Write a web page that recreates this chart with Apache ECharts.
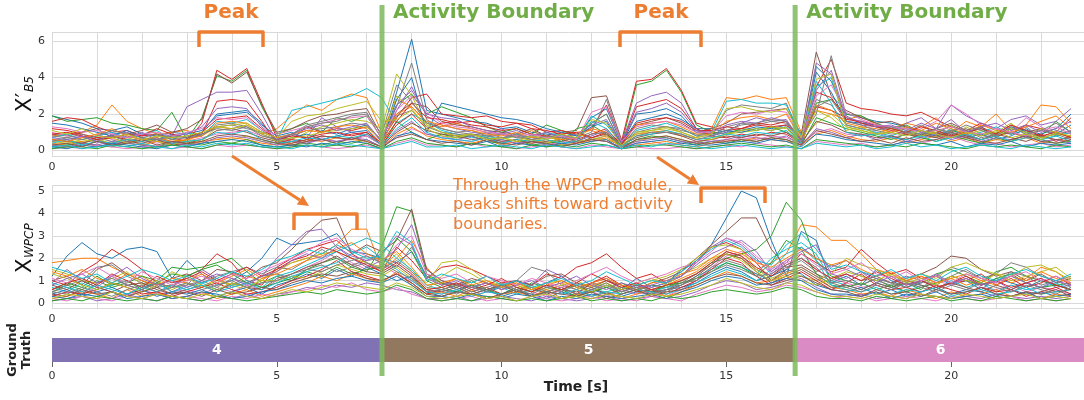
<!DOCTYPE html>
<html><head><meta charset="utf-8">
<script src="https://cdn.jsdelivr.net/npm/echarts@6/dist/echarts.min.js"></script>
<style>html,body{margin:0;padding:0;background:#fff}#c{width:1084px;height:400px}</style>
</head><body><div id="c"></div>
<script>
// ---------- DATA ----------
const sampleStep = 1 / 3; // seconds between samples
const xTickLabels = [0, 5, 10, 15, 20];

// Panel 1: X'_B5
const b5_01 = [1.9,1.7,1.5,1.2,1.1,1.3,0.9,0.8,1.0, 0.9,1.1, 1.9,2.0,2.1,1.4, 0.8,1.0,0.6,1.1,0.9,1.2,1.4, 0.5, 3.2,6.1,2.2, 2.0,1.8,1.6,1.5,1.2,1.3,1.0,0.9,0.8,0.7, 1.8,2.3, 0.4, 1.6,1.8,2.0,1.7,1.2, 1.2,1.0,1.1,1.3,1.2,1.4, 0.6, 4.6,3.8, 2.0,1.8,1.6,1.5,1.3,1.1,0.9,1.4,1.0,1.2,0.8,1.3,1.1,0.9,1.2,2.0];
const b5_02 = [0.8,0.9,1.0,1.4,2.5,1.6,1.2,0.9,1.0, 1.1,0.8, 1.3,1.2,1.4,0.9, 1.2,1.9,2.5,2.2,2.8,3.1,2.9, 1.0, 2.8,2.4,1.5, 1.3,1.5,1.2,1.0,0.9,0.8,1.1,0.7,0.9,1.0, 1.1,0.8, 0.5, 0.9,1.0,1.1,0.8,0.7, 1.2,2.9,2.8,3.0,2.8,2.9, 1.0, 2.2,2.0, 1.7,1.9,1.4,1.2,1.5,1.3,1.8,1.0,1.6,1.3,2.0,1.1,1.4,2.5,2.4,1.5];
const b5_03 = [1.9,1.6,1.7,1.8,1.5,1.4,1.2,1.1,2.1, 0.6,1.8, 4.1,3.8,4.4,2.4, 0.9,1.2,1.5,1.0,1.8,1.6,1.9, 0.7, 2.5,3.1,2.0, 2.4,2.1,1.8,1.3,1.0,1.2,0.9,1.4,1.1,0.8, 1.5,2.0, 0.3, 3.6,3.8,4.4,3.2,1.4, 1.0,0.9,1.2,1.1,1.3,1.0, 0.5, 2.6,2.8, 2.0,1.9,1.5,1.2,1.4,1.0,0.8,1.1,0.9,1.3,0.7,1.2,1.0,0.8,1.6,1.0];
const b5_04 = [1.6,1.8,1.7,1.3,1.0,1.1,0.8,0.9,0.7, 0.5,1.5, 4.4,3.9,4.5,2.6, 0.7,0.6,1.3,1.0,1.2,1.1,1.3, 0.6, 1.8,2.9,3.1, 2.0,1.9,1.8,1.9,1.6,1.5,1.4,1.0,1.1,0.9, 1.2,2.5, 0.5, 3.8,3.9,4.5,3.3,1.5, 1.3,1.1,1.2,1.4,1.3,1.4, 0.8, 3.5,5.0, 2.6,2.3,2.2,2.0,1.9,2.1,1.7,1.3,1.1,1.5,1.2,0.9,1.4,1.2,1.0,1.8];
const b5_05 = [0.6,0.5,0.8,0.4,0.9,1.0,0.7,0.5,0.8, 2.4,2.8, 3.2,3.2,3.3,2.0, 0.5,0.9,0.7,1.8,1.3,1.0,0.8, 0.3, 2.2,3.5,1.9, 1.4,1.2,1.0,0.9,1.2,0.7,0.8,0.6,0.9,0.5, 0.8,1.1, 0.4, 2.6,3.0,3.2,2.6,1.2, 0.8,1.0,1.5,1.8,1.6,1.7, 0.5, 4.8,4.2, 1.6,1.4,1.3,1.0,1.5,1.8,1.2,2.5,1.9,1.5,1.2,1.7,1.9,1.4,1.6,2.3];
const b5_06 = [0.9,0.8,1.0,1.2,0.7,0.9,1.1,1.4,1.0, 1.2,1.7, 4.2,3.7,4.3,2.5, 1.0,1.2,1.6,1.9,2.0,2.2,2.3, 0.8, 2.0,2.6,2.4, 1.6,1.4,1.3,1.1,1.0,0.9,1.2,0.8,1.0,1.1, 2.9,3.0, 0.6, 1.4,1.6,1.8,1.5,1.0, 1.2,1.5,2.0,2.1,2.2,2.3, 0.9, 5.4,3.0, 2.2,1.8,1.5,1.6,1.3,1.0,1.2,1.5,1.1,1.3,0.9,1.4,1.0,1.2,0.8,1.1];
const b5_07 = [1.0,0.8,0.7,0.9,0.6,0.5,0.7,0.4,0.6, 0.5,0.7, 0.9,1.0,1.1,0.8, 0.6,0.5,0.4,0.7,0.5,0.6,0.8, 0.3, 0.7,1.2,0.9, 0.8,0.6,0.5,0.7,0.5,0.4,0.6,0.3,0.5,0.4, 0.6,0.8, 0.2, 0.4,0.5,0.3,0.4,0.5, 0.6,0.5,0.7,0.6,0.8,0.7, 0.4, 1.0,1.2, 0.9,0.8,1.0,0.7,0.9,1.2,1.6,2.5,2.0,1.4,1.2,1.0,1.8,1.3,0.9,1.1];
const b5_08 = [0.5,0.6,0.4,0.7,0.5,0.8,0.6,0.5,0.7, 0.8,0.9, 1.3,1.4,1.2,1.0, 0.7,0.9,1.4,1.6,1.8,2.0,2.1, 0.6, 2.4,4.8,1.7, 1.2,1.0,1.1,0.8,0.9,0.7,0.6,0.8,0.5,0.7, 1.0,2.8, 0.4, 1.0,1.2,1.3,1.1,0.9, 0.9,2.2,2.5,2.4,2.3,2.6, 0.7, 2.0,5.2, 1.9,1.5,1.3,1.2,1.0,1.4,0.9,1.1,1.2,0.8,1.0,0.9,1.3,0.7,1.1,0.9];
const b5_09 = [0.3,0.4,0.5,0.6,0.4,0.7,0.5,0.8,0.6, 0.5,0.4, 0.7,0.6,0.8,0.5, 0.4,0.6,1.0,1.3,1.5,1.7,1.6, 1.2, 4.2,3.0,1.4, 1.0,0.8,0.9,0.7,0.6,0.8,0.5,0.7,0.6,0.9, 0.7,0.6, 0.3, 0.5,0.7,0.8,0.6,0.4, 0.7,0.9,1.0,1.1,1.3,1.2, 0.5, 1.5,2.0, 1.3,1.1,0.9,1.2,1.0,0.8,1.1,0.7,1.3,0.9,1.0,1.5,0.8,1.2,1.0,0.7];
const b5_10 = [0.7,0.9,0.6,0.8,1.0,0.7,0.9,1.1,0.6, 1.0,0.8, 1.6,1.5,1.7,1.1, 0.6,2.2,2.4,2.6,2.8,3.0,3.4, 2.9, 1.5,2.0,1.6, 1.1,0.9,0.7,0.8,0.6,0.9,0.7,1.0,0.8,0.6, 1.9,1.4, 0.4, 1.1,1.3,1.5,1.2,0.8, 1.0,2.7,2.8,2.6,2.6,2.5, 0.8, 3.5,4.0, 1.4,1.2,1.0,0.8,1.1,0.9,0.7,1.2,0.8,1.0,1.3,0.9,1.1,0.6,0.8,1.0];
const b5_11 = [1.5,1.4,1.2,1.0,0.8,1.1,0.7,0.6,0.9, 0.7,1.0, 2.0,2.1,2.2,1.5, 0.5,0.7,0.9,0.6,0.8,1.0,1.1, 0.4, 2.8,4.0,1.0, 2.6,2.4,2.2,2.0,1.8,1.7,1.5,1.2,1.0,0.8, 1.3,1.6, 0.3, 2.0,2.1,2.3,1.9,1.0, 0.9,1.1,1.0,1.2,1.1,1.3, 0.4, 4.3,3.2, 1.6,1.5,1.4,1.3,1.2,1.0,0.8,1.0,0.7,0.9,0.6,0.8,1.2,0.7,0.9,1.4];
const b5_12 = [0.4,0.3,0.5,0.2,0.4,0.6,0.3,0.5,0.4, 0.3,0.5, 0.6,0.7,0.6,0.4, 0.3,0.4,0.6,0.5,0.7,0.6,0.5, 0.2, 0.9,1.3,0.8, 0.6,0.5,0.4,0.6,0.3,0.5,0.4,0.6,0.3,0.4, 0.5,0.7, 0.2, 0.3,0.4,0.5,0.3,0.2, 0.4,0.6,0.5,0.7,0.6,0.5, 0.3, 0.9,1.1, 0.8,0.6,0.5,0.7,0.4,0.6,0.8,0.5,0.7,0.4,0.6,0.5,0.7,0.4,0.6,0.5];
const b5_13 = [0.2,0.3,0.4,0.3,0.2,0.4,0.3,0.2,0.5, 0.4,0.3, 0.5,0.4,0.6,0.3, 0.2,0.3,0.4,0.3,0.5,0.4,0.6, 0.2, 1.6,1.0,0.6, 0.9,0.7,0.8,0.5,0.4,0.6,0.3,0.4,0.5,1.2, 1.4,0.9, 0.2, 0.6,0.8,0.7,0.5,0.3, 0.5,0.4,0.6,0.5,0.7,0.6, 0.3, 1.8,1.5, 1.2,1.0,0.8,0.6,0.9,0.7,0.5,0.8,0.6,0.4,0.7,0.5,0.9,0.6,0.4,0.5];
const b5_14 = [1.2,1.1,0.9,0.7,0.8,0.6,0.5,0.7,0.4, 0.6,0.9, 2.7,2.8,2.7,1.6, 0.4,0.6,0.5,0.8,0.7,0.9,1.0, 0.3, 1.4,2.0,1.2, 1.5,1.6,1.4,1.3,1.1,1.2,0.9,0.8,0.7,0.6, 0.9,1.2, 0.3, 2.4,2.6,2.8,2.3,1.2, 0.8,0.7,0.9,0.8,1.0,0.9, 0.4, 2.4,2.2, 1.8,1.5,1.3,1.1,0.9,0.8,1.0,0.7,0.9,0.6,0.8,1.0,0.7,0.9,0.5,0.8];
const b5_15 = [0.3,0.2,0.4,0.3,0.5,0.4,0.3,0.2,0.4, 0.3,0.4, 0.7,0.8,0.7,0.5, 0.3,0.5,0.4,0.6,0.5,0.7,0.6, 0.2, 1.1,1.6,0.9, 0.7,0.6,0.8,0.5,0.6,0.4,0.5,0.3,0.4,0.5, 0.6,0.5, 0.2, 0.5,0.6,0.7,0.5,0.4, 0.5,0.6,0.8,0.7,0.6,0.8, 0.3, 1.2,1.0, 0.7,0.9,0.6,0.8,0.5,0.7,0.9,0.6,0.8,0.5,0.7,0.6,0.8,0.5,0.6,0.4];
const b5_16 = [0.6,0.5,0.4,0.6,0.3,0.5,0.4,0.6,0.3, 0.4,0.6, 1.1,1.2,1.0,0.7, 0.5,0.4,0.6,0.8,0.7,0.6,0.9, 0.3, 1.0,1.5,1.1, 0.9,0.8,0.6,0.7,0.5,0.6,0.4,0.5,0.6,0.4, 0.7,0.9, 0.3, 0.7,0.9,1.0,0.8,0.5, 0.6,0.8,0.7,0.9,0.8,1.0, 0.4, 1.6,1.4, 1.0,0.9,0.7,0.8,0.6,0.9,0.7,1.0,0.8,0.6,0.9,0.7,0.5,0.8,0.6,0.7];
const b5_17 = [0.1,0.2,0.1,0.3,0.2,0.1,0.2,0.3,0.1, 0.2,0.1, 0.3,0.2,0.3,0.2, 0.1,0.2,0.3,0.2,0.1,0.2,0.3, 0.1, 0.4,0.6,0.3, 0.3,0.2,0.4,0.2,0.3,0.1,0.2,0.3,0.2,0.1, 0.3,0.2, 0.1, 0.2,0.1,0.1,0.2,0.1, 0.2,0.3,0.2,0.4,0.3,0.2, 0.1, 0.5,0.4, 0.3,0.4,0.2,0.3,0.5,0.4,0.6,0.8,0.5,0.3,0.4,0.2,0.3,0.4,0.2,0.3];
const b5_18 = [0.8,0.7,0.9,0.6,0.8,0.5,0.7,0.9,0.6, 0.7,0.8, 1.4,1.5,1.3,0.9, 0.6,0.8,1.1,1.2,1.3,1.5,1.4, 0.5, 1.9,2.2,1.3, 1.0,0.9,0.8,1.0,0.7,0.8,0.6,0.7,0.9,0.6, 1.5,2.0, 0.3, 1.2,1.4,1.3,1.2,0.8, 0.8,1.3,1.5,1.4,1.6,1.5, 0.6, 2.8,2.5, 1.4,1.2,1.1,0.9,1.0,0.8,1.2,0.9,1.1,0.7,0.9,1.0,0.8,1.1,0.9,0.6];
const b5_19 = [0.5,0.4,0.6,0.5,0.7,0.4,0.6,0.5,0.3, 0.6,0.5, 1.3,1.2,1.4,0.9, 0.5,0.7,0.8,1.0,1.1,1.2,1.3, 0.6, 3.0,2.3,1.2, 0.8,0.7,0.9,0.6,0.7,0.5,0.6,0.4,0.7,0.5, 0.6,0.8, 0.2, 1.0,1.1,1.2,1.0,0.7, 0.6,0.9,1.1,1.2,1.1,1.3, 0.5, 2.2,1.8, 1.1,1.3,0.9,1.0,1.2,0.8,1.0,1.4,0.9,1.1,0.8,1.2,1.0,0.7,0.9,0.8];
const b5_20 = [0.4,0.6,0.3,0.5,0.4,0.6,0.5,0.7,0.4, 0.5,0.6, 1.0,0.9,1.1,0.6, 0.4,0.5,0.7,0.6,0.8,0.7,0.9, 0.3, 1.2,1.8,1.0, 0.7,0.6,0.5,0.7,0.4,0.6,0.5,0.6,0.4,0.5, 1.6,1.2, 0.2, 0.8,0.9,1.1,0.9,0.6, 0.7,0.9,0.8,1.0,0.9,1.1, 0.4, 3.8,2.6, 1.0,0.8,0.9,0.7,0.6,0.8,0.5,0.7,0.9,0.6,0.8,0.5,0.7,0.6,0.8,0.5];
const b5_21 = [0.2,0.1,0.3,0.2,0.4,0.3,0.2,0.1,0.3, 0.2,0.4, 0.5,0.6,0.5,0.3, 0.2,0.3,0.2,0.4,0.3,0.5,0.4, 0.1, 0.8,1.0,0.6, 0.5,0.4,0.3,0.5,0.2,0.4,0.3,0.2,0.4,0.3, 0.5,0.6, 0.1, 0.4,0.5,0.6,0.4,0.3, 0.3,0.4,0.5,0.4,0.6,0.5, 0.2, 0.9,0.8, 0.6,0.5,0.4,0.3,0.5,0.4,0.3,0.5,0.2,0.4,0.3,0.5,0.2,0.4,0.3,0.4];
const b5_22 = [0.6,0.5,0.7,0.9,1.2,0.8,0.6,0.7,0.5, 0.6,0.8, 1.5,1.6,1.5,1.0, 0.7,0.9,1.1,1.0,1.3,1.4,1.2, 0.4, 2.0,2.4,1.6, 1.4,1.2,1.1,0.9,0.8,1.0,0.7,0.8,0.6,0.7, 1.2,1.0, 0.3, 1.4,1.5,1.6,1.3,0.9, 0.9,1.6,1.8,1.9,1.7,2.0, 0.6, 2.5,2.2, 1.5,1.3,1.2,1.0,1.3,1.1,1.5,1.2,0.9,1.4,1.1,1.0,1.3,1.6,1.9,1.2];
const b5_23 = [0.1,0.2,0.2,0.1,0.3,0.2,0.1,0.2,0.3, 0.2,0.1, 0.3,0.4,0.3,0.2, 0.1,0.2,0.3,0.2,0.3,0.2,0.4, 0.1, 0.5,0.7,0.4, 0.3,0.2,0.4,0.3,0.2,0.1,0.3,0.2,0.3,0.2, 0.4,0.3, 0.1, 0.2,0.3,0.3,0.2,0.1, 0.2,0.3,0.4,0.3,0.2,0.3, 0.1, 0.6,0.5, 0.4,0.3,0.2,0.3,0.2,0.4,0.3,0.2,0.1,0.3,0.2,0.3,0.2,0.1,0.3,0.2];
const b5_24 = [0.9,1.0,0.8,0.6,0.7,0.9,0.8,1.2,0.9, 0.7,1.0, 1.7,1.8,1.9,1.2, 0.6,0.8,0.7,0.9,1.0,0.8,1.0, 0.4, 1.6,2.6,1.8, 1.7,1.5,1.6,1.4,1.3,1.5,1.2,1.1,0.9,1.0, 0.7,1.0, 0.3, 1.5,1.7,1.8,1.6,1.1, 1.1,1.3,1.2,1.5,1.4,1.6, 0.6, 3.2,2.9, 1.7,1.6,1.4,1.2,1.0,1.3,1.1,0.8,1.0,1.2,0.9,1.4,1.1,0.8,1.0,0.7];
const b5_25 = [0.7,0.6,0.8,0.5,0.9,0.7,1.0,0.6,0.8, 0.9,1.3, 2.3,2.4,2.3,1.3, 0.6,0.9,1.2,1.4,1.1,1.3,1.5, 0.5, 2.5,3.3,2.0, 1.8,1.7,1.3,1.1,0.9,1.1,0.8,1.0,0.7,0.9, 1.4,1.7, 0.4, 2.1,2.3,2.6,2.1,1.1, 1.0,1.4,1.6,1.5,1.8,1.6, 0.5, 3.3,4.4, 1.8,1.6,1.3,1.4,1.1,1.5,1.2,1.7,1.0,1.3,1.5,1.1,1.4,1.0,1.2,1.6];
const b5_26 = [0.3,0.4,0.2,0.5,0.3,0.4,0.6,0.3,0.5, 0.4,0.5, 0.8,0.9,0.8,0.6, 0.4,0.3,0.5,0.6,0.4,0.7,0.5, 0.2, 0.7,0.9,0.6, 0.4,0.5,0.3,0.6,0.4,0.3,0.5,0.4,0.2,0.4, 0.6,0.5, 0.1, 0.6,0.7,0.8,0.6,0.4, 0.4,0.5,0.6,0.5,0.7,0.6, 0.3, 1.1,0.9, 0.7,0.5,0.6,0.4,0.7,0.5,0.6,0.9,0.7,0.5,0.4,0.6,0.8,0.5,0.4,0.6];
const b5_27 = [1.3,1.2,1.0,1.1,0.9,0.7,0.9,1.0,0.8, 1.0,1.2, 1.8,1.7,1.8,1.1, 0.9,1.1,1.3,1.5,1.7,1.8,1.9, 0.7, 2.2,3.0,2.1, 1.5,1.3,1.2,1.0,0.9,0.8,0.9,0.7,0.8,0.6, 2.1,2.4, 0.5, 1.3,1.5,1.6,1.4,1.0, 1.0,1.9,2.1,2.0,2.2,2.1, 0.7, 3.0,3.6, 2.1,1.7,1.4,1.3,1.2,1.0,1.1,1.3,1.0,0.9,1.2,1.0,0.8,1.1,1.3,0.9];
const b5_28 = [0.5,0.7,0.6,0.8,1.1,0.9,0.7,0.6,0.8, 0.7,0.9, 1.2,1.1,1.3,0.8, 0.6,0.9,1.3,1.5,1.6,1.9,2.0, 0.9, 3.6,2.7,1.5, 1.2,1.0,0.9,0.8,0.7,0.9,0.6,0.8,0.7,0.5, 0.9,1.0, 0.3, 0.8,1.0,1.0,0.9,0.6, 0.8,1.1,1.4,1.5,1.7,1.6, 0.6, 2.4,2.8, 1.6,1.4,1.1,1.3,1.0,0.9,1.2,1.0,1.4,1.1,0.8,1.3,0.9,1.1,1.5,1.0];
const b5_29 = [1.1,0.9,1.2,0.8,0.7,0.9,0.6,0.8,0.7, 0.8,1.0, 1.3,1.4,1.5,1.0, 0.7,1.6,1.9,2.0,2.3,2.5,2.7, 1.6, 1.7,2.2,1.4, 1.0,0.8,0.9,0.6,0.7,0.5,0.8,0.6,0.9,0.7, 1.7,1.5, 0.3, 0.9,1.1,1.3,1.0,0.7, 0.9,2.3,2.4,2.2,2.1,2.3, 0.7, 3.9,4.2, 1.3,1.1,0.9,1.0,0.8,1.1,0.9,0.7,1.0,0.8,1.1,0.7,0.9,0.6,1.0,0.8];
const b5_30 = [0.2,0.3,0.1,0.2,0.3,0.2,0.4,0.2,0.1, 0.3,0.2, 0.4,0.3,0.4,0.2, 0.2,0.1,0.3,0.2,0.4,0.3,0.2, 0.1, 0.3,0.5,0.2, 0.2,0.3,0.1,0.2,0.3,0.2,0.1,0.3,0.2,0.1, 0.2,0.3, 0.1, 0.3,0.2,0.4,0.3,0.2, 0.1,0.2,0.3,0.2,0.1,0.2, 0.1, 0.4,0.3, 0.2,0.3,0.1,0.2,0.4,0.2,0.3,0.1,0.2,0.3,0.2,0.1,0.3,0.2,0.1,0.2];

// Panel 2: X_WPCP
const wp_01 = [1.2,2.1,2.7,2.2,2.0,2.4,2.5,2.3,1.1, 1.9,1.3,0.8,1.0,1.4,2.0, 2.9,2.6,2.7,2.8,3.1,2.3,2.2, 2.0,1.8,2.3,1.2, 0.9,0.6,0.8,0.5,0.7,1.0,0.6,0.9,1.2,0.7,0.5,0.8,0.6,1.1,0.7,0.9,1.5, 1.8,2.6,3.8,5.0,4.7, 2.8,1.2,3.2,2.8,0.9, 1.2,0.8,1.5,1.0,0.7,0.9,1.2,0.8,1.0,0.6,1.1,0.9,0.7,1.0,0.8,0.6];
const wp_02 = [1.8,1.9,2.0,2.0,1.6,1.3,1.2,0.8,1.0, 0.9,0.7,1.1,0.8,1.2,1.0, 1.5,1.8,2.0,2.2,2.6,3.3,3.3, 1.5,2.0,2.8,1.6, 0.8,1.1,0.7,0.9,0.6,0.8,0.5,0.7,0.9,0.6,0.8,1.0,0.7,0.9,0.6,0.8,1.1, 1.4,1.9,2.2,2.0,1.5, 1.8,2.2,3.5,3.4,2.8, 2.8,2.2,1.5,1.3,1.0,1.2,0.9,1.1,0.8,1.0,1.3,0.9,1.1,1.6,1.4,0.9];
const wp_03 = [0.5,0.8,0.6,1.0,0.7,0.9,1.2,1.0,1.6, 1.5,1.6,1.8,2.0,1.4,0.9, 1.2,1.0,1.5,1.8,2.0,1.6,1.4, 2.5,4.3,4.1,1.3, 0.9,0.7,1.0,0.6,0.8,0.5,0.9,0.7,0.6,0.8,0.5,0.7,0.9,0.6,0.8,0.7,1.0, 1.3,1.8,2.0,2.2,2.4, 3.0,4.5,3.7,1.9,1.2, 1.0,0.8,1.1,0.7,0.9,0.6,1.3,1.5,1.2,0.9,1.4,1.6,1.2,1.0,0.8,0.9];
const wp_04 = [1.0,0.8,1.4,1.8,2.4,2.0,1.5,0.9,0.7, 1.2,1.5,2.2,1.8,1.0,0.8, 1.6,2.0,2.4,2.6,2.8,2.2,1.8, 1.4,2.5,1.9,1.1, 1.6,1.7,1.5,1.2,0.9,1.0,0.8,1.3,1.1,1.6,1.8,2.2,1.6,1.1,1.3,0.9,1.2, 1.9,2.5,2.7,2.4,1.8, 1.0,1.5,2.2,1.8,1.4, 1.6,2.4,1.8,1.3,1.5,1.1,1.2,0.9,1.0,1.3,0.8,1.1,0.7,0.9,1.2,0.8];
const wp_05 = [0.9,1.5,1.0,0.7,1.2,0.8,0.6,1.0,0.5, 0.8,1.5,1.1,0.7,0.9,1.2, 2.0,2.6,3.2,3.3,2.5,2.0,1.6, 1.9,2.4,3.5,1.5, 1.0,0.8,0.7,0.9,0.6,1.0,0.8,1.5,1.2,0.7,0.9,1.1,0.6,0.8,0.7,0.9,1.2, 1.8,2.5,2.9,2.6,2.0, 1.3,1.8,2.5,2.0,1.6, 1.9,1.4,1.1,0.9,1.2,1.0,0.7,0.9,1.1,0.8,1.0,0.6,0.9,1.1,0.7,0.8];
const wp_06 = [1.0,1.2,0.8,1.5,1.8,1.3,1.0,0.7,1.1, 1.3,1.0,1.5,1.4,1.1,1.6, 1.8,2.4,3.1,3.7,3.8,2.2,2.6, 2.3,2.8,4.2,1.5, 1.0,0.8,1.1,0.9,0.7,1.0,0.8,1.2,1.3,0.9,0.7,1.0,0.8,0.6,0.9,1.1,1.4, 2.0,2.6,3.2,3.8,3.8, 2.4,1.6,1.7,1.3,1.0, 1.3,1.0,1.2,0.9,1.1,1.3,1.6,2.1,2.0,1.5,1.2,1.4,1.0,1.3,0.9,1.1];
const wp_07 = [0.3,0.5,0.4,0.7,0.5,0.3,0.6,0.4,0.5, 0.6,0.4,0.7,0.5,0.8,0.6, 1.0,1.3,1.6,1.9,2.3,1.8,1.5, 1.7,1.3,1.0,0.6, 0.4,0.6,0.3,0.5,0.4,0.7,0.5,0.3,0.6,0.4,0.5,0.3,0.6,0.4,0.5,0.3,0.6, 1.0,1.6,2.1,2.3,1.9, 1.4,1.8,2.0,1.5,1.1, 0.9,0.7,0.8,0.6,0.9,0.7,1.0,0.8,1.1,0.7,0.6,0.8,0.5,0.7,0.6,0.4];
const wp_08 = [0.6,0.8,1.0,1.6,1.7,1.2,0.9,0.7,0.8, 1.1,0.9,1.2,1.4,1.6,1.3, 1.6,1.5,1.9,2.4,2.0,1.7,1.9, 2.0,1.6,2.5,1.2, 0.8,0.9,0.7,0.6,0.8,1.0,1.6,1.4,0.8,0.6,0.9,0.7,0.5,0.8,0.6,0.7,0.9, 1.3,1.7,2.3,2.1,1.5, 1.2,1.6,1.9,1.4,1.7, 1.5,1.2,1.0,0.8,1.0,0.9,1.2,1.6,1.4,1.1,1.3,1.8,1.6,1.2,1.0,1.2];
const wp_09 = [1.5,1.3,1.0,0.9,1.1,1.4,0.8,1.0,0.6, 0.9,0.7,1.0,0.8,0.6,1.1, 1.4,1.8,2.0,2.2,2.3,2.0,1.8, 1.6,2.2,1.4,0.9, 1.8,1.9,1.5,1.0,0.8,0.9,0.7,0.6,0.8,1.0,0.7,0.9,0.6,0.8,1.0,1.2,1.5, 2.0,2.5,2.6,2.4,1.5, 1.1,1.4,1.2,1.0,1.3, 2.0,1.7,1.5,1.2,1.0,1.3,1.1,1.6,1.8,1.5,1.3,1.2,1.6,1.7,1.4,1.0];
const wp_10 = [0.7,0.5,0.9,0.6,0.8,1.0,0.7,0.9,0.5, 0.7,0.9,0.6,0.8,1.0,0.7, 1.2,1.4,1.7,2.0,2.3,2.6,2.9, 2.6,2.0,1.5,0.8, 0.6,0.5,0.8,0.6,0.7,0.4,0.6,0.5,0.7,0.4,0.6,0.5,0.7,0.6,0.5,0.7,0.8, 1.2,1.5,1.8,1.6,1.3, 2.0,2.4,2.7,2.2,1.0, 0.8,0.6,0.9,0.7,0.5,0.8,0.6,1.0,0.7,0.9,0.5,0.8,0.6,0.7,0.9,0.6];
const wp_11 = [0.4,0.6,0.3,0.5,0.7,0.4,0.6,0.3,0.5, 0.4,0.6,0.3,0.5,0.7,0.4, 0.8,1.0,1.3,1.1,1.5,1.2,1.6, 1.3,1.0,1.2,0.5, 0.3,0.5,0.4,0.6,0.3,0.5,0.4,0.2,0.5,0.3,0.6,0.4,0.3,0.5,0.4,0.6,0.7, 0.9,1.3,1.6,1.4,1.0, 1.2,1.5,1.3,0.8,0.6, 0.5,0.7,0.4,0.6,0.3,0.5,0.7,0.4,0.6,0.5,0.3,0.6,0.4,0.5,0.3,0.4];
const wp_12 = [0.2,0.3,0.5,0.4,0.2,0.6,0.3,0.5,0.2, 0.3,0.5,0.2,0.4,0.6,0.3, 0.5,0.7,0.9,1.2,1.0,1.3,1.1, 0.9,1.4,0.8,0.4, 0.5,0.3,0.6,0.2,0.4,0.5,0.3,0.6,0.2,0.4,0.3,0.5,0.2,0.4,0.6,0.3,0.5, 0.8,1.1,1.4,1.2,0.9, 1.0,1.3,1.6,1.2,0.7, 0.6,0.4,0.5,0.3,0.6,0.4,0.2,0.5,0.3,0.4,0.6,0.3,0.5,0.2,0.4,0.3];
const wp_13 = [0.6,0.9,0.7,1.2,0.8,1.0,0.6,0.9,1.3, 1.2,1.5,1.7,1.3,0.9,0.7, 0.9,1.1,1.4,1.2,1.6,1.3,1.5, 1.6,2.9,2.3,1.0, 0.7,0.5,0.8,0.6,0.4,0.7,0.5,0.8,0.6,0.3,0.5,0.7,0.4,0.6,0.5,0.8,0.9, 1.1,1.4,1.8,1.6,1.2, 1.8,2.8,2.4,1.3,0.8, 0.7,0.9,0.6,0.8,0.5,0.7,0.9,1.2,1.0,0.8,1.1,1.3,0.9,0.7,0.8,0.6];
const wp_14 = [0.3,0.5,0.4,0.6,0.9,0.7,0.4,0.5,0.3, 0.5,0.7,0.9,0.6,0.4,0.5, 0.7,1.0,1.2,1.5,1.9,1.4,1.2, 1.0,1.3,0.9,0.4, 0.6,0.8,0.5,0.7,0.4,0.6,0.3,0.5,0.7,0.4,0.9,1.2,0.8,0.5,0.6,0.4,0.7, 1.0,1.5,2.0,1.8,1.2, 0.8,1.1,1.4,1.0,0.6, 0.9,1.3,0.8,0.6,0.7,0.5,0.8,0.6,0.4,0.7,0.5,0.6,0.3,0.5,0.7,0.4];
const wp_15 = [0.1,0.2,0.3,0.1,0.2,0.4,0.2,0.1,0.3, 0.2,0.1,0.3,0.2,0.4,0.2, 0.4,0.5,0.7,0.6,0.8,0.7,0.9, 0.8,0.6,0.5,0.2, 0.2,0.3,0.1,0.2,0.3,0.2,0.1,0.3,0.2,0.1,0.2,0.3,0.1,0.2,0.3,0.2,0.3, 0.5,0.8,1.0,0.9,0.6, 0.7,0.9,1.1,0.7,0.4, 0.3,0.4,0.2,0.3,0.2,0.4,0.3,0.2,0.3,0.2,0.4,0.3,0.2,0.3,0.2,0.3];
const wp_16 = [0.8,0.6,1.0,0.7,0.5,0.8,0.9,0.6,0.4, 0.6,0.8,0.5,0.9,0.7,0.6, 1.1,1.3,1.6,1.8,2.1,1.7,1.4, 1.3,1.7,1.2,0.6, 0.5,0.7,0.4,0.6,0.8,0.5,0.7,0.4,0.6,0.5,0.7,0.4,0.6,0.8,0.5,0.6,0.8, 1.2,1.7,2.2,2.0,1.4, 0.9,1.2,1.5,1.1,0.7, 0.8,0.6,0.9,0.7,1.0,0.8,0.6,0.9,0.7,0.5,0.8,0.6,0.9,0.7,0.5,0.6];
const wp_17 = [0.2,0.1,0.3,0.2,0.1,0.3,0.2,0.4,0.2, 0.3,0.2,0.1,0.3,0.2,0.4, 0.3,0.5,0.6,0.8,0.7,0.9,0.6, 0.5,0.7,0.4,0.2, 0.1,0.2,0.3,0.1,0.2,0.1,0.3,0.2,0.1,0.2,0.3,0.1,0.2,0.1,0.3,0.2,0.1, 0.4,0.6,0.8,0.7,0.5, 0.6,0.8,0.7,0.5,0.3, 0.2,0.3,0.1,0.2,0.3,0.2,0.1,0.3,0.2,0.1,0.2,0.3,0.1,0.2,0.1,0.2];
const wp_18 = [0.5,0.7,0.4,0.9,1.1,0.8,0.6,0.9,0.7, 0.8,1.0,0.7,1.1,0.9,1.2, 1.3,1.1,1.5,1.7,1.4,1.6,1.8, 1.5,1.9,1.4,0.7, 0.6,0.8,0.5,0.7,0.9,0.6,0.8,0.5,0.7,0.4,0.6,0.8,0.5,0.7,0.6,0.5,0.8, 1.1,1.6,1.9,1.7,1.3, 1.0,1.4,1.6,1.2,0.9, 1.0,0.8,1.1,0.9,0.7,1.0,0.8,1.2,1.5,1.1,0.9,1.4,1.2,0.8,1.0,0.7];
const wp_19 = [1.3,1.1,0.8,0.6,0.9,0.7,0.5,0.8,1.4, 1.1,0.8,0.6,0.9,0.7,1.0, 1.0,1.2,1.1,1.4,1.7,1.5,1.3, 1.2,1.6,1.1,0.6, 1.2,1.6,1.3,0.9,0.7,0.8,0.6,0.9,1.0,0.7,0.5,0.8,0.6,0.9,1.1,0.8,1.3, 1.6,2.0,2.2,1.9,1.4, 1.0,1.2,1.0,0.8,1.1, 1.4,1.2,1.0,1.3,0.9,1.1,0.8,1.2,1.0,0.9,1.3,1.0,1.2,1.4,1.6,1.1];
const wp_20 = [0.9,0.7,0.5,0.8,0.6,0.4,0.7,0.5,0.8, 0.6,0.8,0.5,0.7,0.9,0.6, 0.9,1.2,1.4,1.6,1.8,2.2,2.5, 2.0,1.5,1.0,0.5, 0.4,0.6,0.3,0.5,0.4,0.6,0.3,0.5,0.4,0.6,0.3,0.5,0.4,0.6,0.5,0.4,0.6, 0.9,1.2,1.5,1.3,1.0, 1.5,2.2,2.5,1.9,0.8, 0.6,0.5,0.7,0.4,0.6,0.5,0.7,0.3,0.5,0.6,0.4,0.5,0.7,0.4,0.5,0.6];
const wp_21 = [0.3,0.2,0.4,0.3,0.5,0.2,0.3,0.4,0.2, 0.3,0.5,0.4,0.2,0.3,0.5, 0.6,0.8,1.0,0.9,1.1,1.2,1.0, 0.9,1.2,0.8,0.3, 0.3,0.2,0.4,0.3,0.2,0.4,0.3,0.1,0.3,0.2,0.4,0.3,0.2,0.3,0.4,0.2,0.5, 0.7,1.0,1.2,1.1,0.8, 0.9,1.1,1.0,0.6,0.4, 0.4,0.3,0.5,0.2,0.4,0.3,0.5,0.2,0.3,0.4,0.2,0.3,0.5,0.2,0.3,0.4];
const wp_22 = [1.4,1.2,1.5,1.1,0.9,1.3,1.0,0.8,1.1, 1.0,1.3,0.9,1.2,1.5,1.1, 1.3,1.6,1.9,2.1,2.4,2.7,2.2, 1.9,2.3,1.6,0.8, 0.9,1.1,0.8,1.0,0.7,0.9,0.6,0.8,1.0,0.7,0.9,1.1,0.8,0.6,0.9,1.0,1.3, 1.5,2.0,2.4,2.2,1.8, 1.6,2.0,2.4,2.0,1.7, 1.9,1.5,1.2,1.4,1.0,1.2,0.9,1.1,1.3,1.0,0.8,1.2,1.0,1.4,1.1,0.9];
const wp_23 = [0.1,0.2,0.1,0.3,0.2,0.1,0.2,0.1,0.3, 0.2,0.1,0.3,0.2,0.1,0.2, 0.3,0.4,0.5,0.4,0.6,0.5,0.4, 0.5,0.8,0.6,0.2, 0.1,0.2,0.1,0.3,0.2,0.1,0.2,0.1,0.2,0.3,0.1,0.2,0.1,0.2,0.1,0.3,0.2, 0.3,0.5,0.6,0.5,0.4, 0.5,0.7,0.6,0.3,0.2, 0.2,0.1,0.3,0.2,0.1,0.2,0.3,0.1,0.2,0.1,0.3,0.2,0.1,0.2,0.1,0.2];
const wp_24 = [0.6,0.9,1.1,0.8,1.3,1.0,0.7,1.2,0.9, 1.1,1.4,1.0,1.3,1.6,1.2, 1.5,1.9,2.1,2.5,2.3,2.0,1.7, 1.4,1.8,1.3,0.6, 0.7,0.9,0.6,0.8,1.1,0.7,0.5,0.8,0.6,0.9,1.3,1.0,0.7,0.9,0.6,0.8,1.0, 1.3,1.8,2.3,2.1,1.6, 1.2,1.7,2.0,1.5,1.1, 1.3,1.0,1.4,1.1,0.8,1.0,0.7,0.9,1.2,0.8,1.0,0.7,0.9,1.1,0.8,0.6];
const wp_25 = [0.8,1.1,1.3,0.9,1.2,1.6,1.1,0.8,1.0, 0.7,1.0,1.3,1.1,0.8,1.2, 1.4,1.9,2.2,2.0,2.5,2.1,1.9, 2.2,3.0,2.6,1.1, 0.8,1.0,0.7,0.9,0.6,0.8,1.0,0.7,0.9,1.2,0.8,0.6,0.9,0.7,0.8,1.0,1.2, 1.7,2.2,2.5,2.8,2.3, 1.4,1.9,2.3,2.6,1.3, 1.1,1.4,0.9,1.2,0.8,1.0,1.3,0.9,1.1,0.8,1.0,1.2,0.9,0.7,1.0,0.8];
const wp_26 = [0.4,0.3,0.6,0.4,0.5,0.3,0.5,0.7,0.4, 0.5,0.3,0.6,0.4,0.5,0.7, 0.6,0.9,1.1,1.3,1.2,1.4,1.1, 1.0,1.3,0.9,0.4, 0.3,0.5,0.4,0.2,0.4,0.6,0.3,0.5,0.4,0.3,0.5,0.2,0.4,0.6,0.3,0.5,0.6, 0.8,1.1,1.3,1.2,0.9, 0.8,1.0,1.2,0.9,0.6, 0.5,0.3,0.6,0.4,0.5,0.3,0.6,0.4,0.5,0.7,0.4,0.3,0.5,0.4,0.6,0.3];
const wp_27 = [1.1,0.9,1.3,1.6,1.2,0.9,1.4,1.1,0.8, 1.0,1.2,0.9,1.3,1.1,1.4, 1.7,2.0,2.3,2.7,2.9,2.4,2.1, 1.8,2.6,3.0,1.3, 1.1,1.3,0.9,1.2,1.0,0.8,1.1,0.9,0.7,1.0,1.3,1.6,1.2,0.9,1.1,1.3,1.6, 1.8,2.3,2.9,2.7,2.1, 1.5,1.9,2.2,1.7,1.3, 1.5,1.8,1.3,1.1,1.4,1.0,1.2,0.9,1.3,1.1,0.9,1.2,1.4,1.0,1.2,0.9];
const wp_28 = [0.5,0.4,0.7,0.5,0.3,0.6,0.8,0.5,0.7, 0.9,0.6,0.8,1.0,0.7,0.9, 1.0,1.3,1.5,1.4,1.7,1.9,2.1, 1.8,1.4,1.1,0.5, 0.6,0.4,0.7,0.5,0.8,0.6,0.4,0.7,0.5,0.8,0.6,0.9,0.5,0.7,0.4,0.6,0.9, 1.0,1.4,1.7,1.5,1.2, 1.3,1.7,2.0,1.6,0.9, 0.7,0.5,0.8,0.6,0.9,0.7,0.5,0.8,0.6,0.9,0.7,0.5,0.8,0.6,0.4,0.7];
const wp_29 = [0.2,0.4,0.3,0.2,0.5,0.3,0.2,0.4,0.3, 0.2,0.4,0.3,0.5,0.3,0.2, 0.4,0.6,0.5,0.7,0.9,0.8,0.7, 0.6,0.9,0.7,0.3, 0.2,0.3,0.4,0.2,0.3,0.1,0.3,0.4,0.2,0.3,0.2,0.4,0.3,0.2,0.4,0.3,0.4, 0.6,0.8,1.1,0.9,0.7, 0.6,0.9,0.8,0.5,0.3, 0.3,0.2,0.4,0.3,0.2,0.4,0.3,0.2,0.4,0.3,0.2,0.3,0.4,0.2,0.3,0.2];
const wp_30 = [1.6,1.4,1.1,1.3,0.9,1.2,1.5,1.3,1.0, 1.2,0.9,1.1,1.4,1.2,1.5, 1.9,2.1,2.4,2.2,2.6,2.3,2.0, 2.1,3.2,2.7,1.0, 1.3,1.1,0.9,1.2,0.8,1.0,0.7,0.9,1.1,0.8,1.0,1.4,1.1,0.8,1.0,0.9,1.4, 1.9,2.4,2.8,2.5,1.9, 1.7,2.6,3.1,2.4,1.5, 1.7,1.4,1.2,1.5,1.1,1.3,1.0,1.4,1.6,1.2,1.0,1.3,1.5,1.2,1.0,1.3];

// Ground truth segments
const gtLabels = ['4', '5', '6'];
const gtStarts = [0, 7.34, 16.53];
const gtEnds = [7.34, 16.53, 23];
const boundaries = [7.34, 16.53];

const b5Series = [b5_01,b5_02,b5_03,b5_04,b5_05,b5_06,b5_07,b5_08,b5_09,b5_10,b5_11,b5_12,b5_13,b5_14,b5_15,b5_16,b5_17,b5_18,b5_19,b5_20,b5_21,b5_22,b5_23,b5_24,b5_25,b5_26,b5_27,b5_28,b5_29,b5_30];
const wpSeries = [wp_01,wp_02,wp_03,wp_04,wp_05,wp_06,wp_07,wp_08,wp_09,wp_10,wp_11,wp_12,wp_13,wp_14,wp_15,wp_16,wp_17,wp_18,wp_19,wp_20,wp_21,wp_22,wp_23,wp_24,wp_25,wp_26,wp_27,wp_28,wp_29,wp_30];

// ---------- STYLE ----------
const palette = ['#1f77b4','#ff7f0e','#2ca02c','#d62728','#9467bd','#8c564b','#e377c2','#7f7f7f','#bcbd22','#17becf'];
const gtColors = ['#8172b3', '#937860', '#da8bc3'];
const GREEN = '#70ad47', ORANGE = '#ed7d31';
const FONT = 'DejaVu Sans';
const gridColor = '#d9d9d9';

function toPairs(arr) { return arr.map((v, i) => [Math.round(i * sampleStep * 1000) / 1000, v]); }

const chart = echarts.init(document.getElementById('c'), null, { renderer: 'canvas' });

function xAxisFor(grid, withGrid) {
  return {
    type: 'value', gridIndex: grid, min: 0, max: 23, interval: withGrid ? 1 : 5,
    axisLine: { show: false },
    axisTick: { show: !withGrid, length: 5, lineStyle: { color: '#666' } },
    splitLine: { show: withGrid, lineStyle: { color: gridColor, width: 1 } },
    axisLabel: {
      color: '#333', fontSize: 11, fontFamily: FONT, margin: withGrid ? 6 : 9,
      formatter: v => (xTickLabels.indexOf(v) >= 0 ? String(v) : '')
    }
  };
}
function yAxisFor(grid, min, max, step) {
  return {
    type: 'value', gridIndex: grid, min: min, max: max, minInterval: step, maxInterval: step,
    axisLine: { show: false }, axisTick: { show: false },
    splitLine: { show: true, lineStyle: { color: gridColor, width: 1 } },
    axisLabel: {
      color: '#333', fontSize: 11, fontFamily: FONT, margin: 7,
      formatter: v => (Math.abs(v - Math.round(v)) < 1e-6 && v >= 0 ? String(Math.round(v)) : '')
    }
  };
}

const series = [];
b5Series.forEach((arr, i) => series.push({
  type: 'line', xAxisIndex: 0, yAxisIndex: 0, data: toPairs(arr), showSymbol: false, symbol: 'none',
  lineStyle: { width: 1, color: palette[i % 10] }, silent: true, animation: false
}));
wpSeries.forEach((arr, i) => series.push({
  type: 'line', xAxisIndex: 1, yAxisIndex: 1, data: toPairs(arr), showSymbol: false, symbol: 'none',
  lineStyle: { width: 1, color: palette[i % 10] }, silent: true, animation: false
}));
series.push({
  type: 'custom', xAxisIndex: 2, yAxisIndex: 2, animation: false, silent: true,
  data: gtStarts.map((s, i) => [s, gtEnds[i], i]),
  encode: { x: [0, 1] },
  renderItem: function (params, api) {
    const p0 = api.coord([api.value(0), 1]);
    const p1 = api.coord([api.value(1), 0]);
    const idx = api.value(2);
    return {
      type: 'group', children: [
        { type: 'rect', shape: { x: p0[0], y: p0[1], width: p1[0] - p0[0], height: p1[1] - p0[1] },
          style: { fill: gtColors[idx] } },
        { type: 'text', x: (p0[0] + p1[0]) / 2, y: (p0[1] + p1[1]) / 2,
          style: { text: gtLabels[idx], fill: '#fff', font: 'bold 14px ' + FONT, align: 'center', verticalAlign: 'middle' } }
      ]
    };
  }
});

const gridBase = { left: 52, width: 1034, containLabel: false, outerBoundsMode: 'none' };
const option = {
  animation: false,
  backgroundColor: '#fff',
  grid: [
    Object.assign({ top: 32, height: 124 }, gridBase),
    Object.assign({ top: 185, height: 123 }, gridBase),
    Object.assign({ top: 338, height: 24 }, gridBase)
  ],
  xAxis: [xAxisFor(0, true), xAxisFor(1, true), xAxisFor(2, false)],
  yAxis: [
    yAxisFor(0, -0.3, 6.5, 2),
    yAxisFor(1, -0.22, 5.27, 1),
    { type: 'value', gridIndex: 2, min: 0, max: 1, show: false }
  ],
  series: series
};
chart.setOption(option);

// ---------- annotations ----------
function txt(x, y, text, font, fill, align, valign, extra) {
  return Object.assign({ type: 'text', x: x, y: y, z: 200,
    style: { text: text, font: font, fill: fill, align: align, verticalAlign: valign } }, extra || {});
}
function bracket(x1, x2, yTop, yBot) {
  return { type: 'polyline', z: 200, shape: { points: [[x1, yBot], [x1, yTop], [x2, yTop], [x2, yBot]] },
    style: { stroke: ORANGE, lineWidth: 3.5, fill: null, lineJoin: 'round' } };
}
function arrow(x1, y1, x2, y2) {
  const a = Math.atan2(y2 - y1, x2 - x1), L = 11, W = 5.5;
  const bx = x2 - L * Math.cos(a), by = y2 - L * Math.sin(a);
  return [
    { type: 'line', z: 200, shape: { x1: x1, y1: y1, x2: bx, y2: by }, style: { stroke: ORANGE, lineWidth: 3 } },
    { type: 'polygon', z: 200, shape: { points: [[x2, y2], [bx - W * Math.sin(a), by + W * Math.cos(a)], [bx + W * Math.sin(a), by - W * Math.cos(a)]] },
      style: { fill: ORANGE } }
  ];
}

const gfx = [];
boundaries.forEach(b => {
  const px = chart.convertToPixel({ gridIndex: 0 }, [b, 0])[0];
  gfx.push({ type: 'rect', z: 150, shape: { x: px - 2.5, y: 5, width: 5, height: 371 }, style: { fill: 'rgba(125,185,90,0.85)' } });
  gfx.push(txt(px + 11, 13, 'Activity Boundary', 'bold 20px ' + FONT, GREEN, 'left', 'middle'));
});
gfx.push(txt(231, 13, 'Peak', 'bold 20px ' + FONT, ORANGE, 'center', 'middle'));
gfx.push(txt(661, 13, 'Peak', 'bold 20px ' + FONT, ORANGE, 'center', 'middle'));
gfx.push(bracket(199, 263, 32, 47));
gfx.push(bracket(620, 701, 32, 47));
gfx.push(bracket(294, 357, 214, 230));
gfx.push(bracket(701, 765, 188, 203));
arrow(232, 156, 309, 206).forEach(e => gfx.push(e));
arrow(657, 157, 699, 185).forEach(e => gfx.push(e));
gfx.push({ type: 'text', x: 453, y: 176, z: 200,
  style: { text: 'Through the WPCP module,\npeaks shifts toward activity\nboundaries.', font: '16px ' + FONT,
    fill: ORANGE, align: 'left', verticalAlign: 'top', lineHeight: 19.5 } });

// y-axis titles (rotated)
const R = Math.PI / 2;
gfx.push(txt(26, 112, 'X\u2032', '21px ' + FONT, '#111', 'left', 'middle', { rotation: R }));
gfx.push(txt(30, 92, 'B5', 'italic 12px ' + FONT, '#111', 'left', 'middle', { rotation: R }));
gfx.push(txt(26, 273, 'X', '21px ' + FONT, '#111', 'left', 'middle', { rotation: R }));
gfx.push(txt(30, 258, 'WPCP', 'italic 12px ' + FONT, '#111', 'left', 'middle', { rotation: R }));
gfx.push({ type: 'text', x: 20, y: 350, rotation: R, z: 200,
  style: { text: 'Ground\nTruth', font: 'bold 13px ' + FONT, fill: '#222', align: 'center', verticalAlign: 'middle', lineHeight: 14 } });
gfx.push(txt(576, 387, 'Time [s]', 'bold 14px ' + FONT, '#222', 'center', 'middle'));

chart.setOption({ graphic: { elements: gfx } });
</script>
</body></html>
